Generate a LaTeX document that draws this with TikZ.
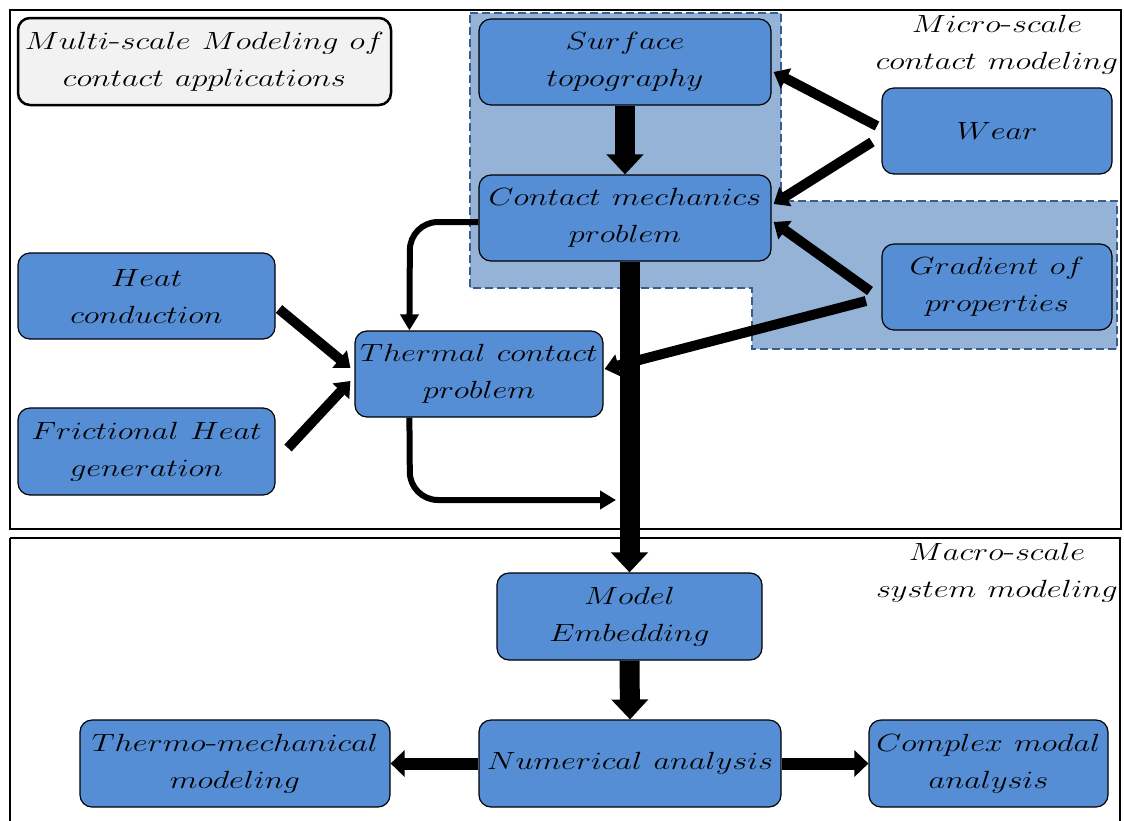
\documentclass[tikz,border=0pt]{standalone}
\usepackage{graphicx}
\usetikzlibrary{arrows.meta,calc}
\definecolor{nodeblue}{HTML}{558ED5}
\definecolor{regionblue}{HTML}{95B3D7}
\definecolor{regionedge}{HTML}{385D8A}
\definecolor{titlegray}{HTML}{F2F2F2}
\newcommand\tx[1]{\scalebox{1.3}[1]{$#1$}}
\begin{document}
\begin{tikzpicture}[x=1pt,y=-1pt,
  box/.style={draw=black, line width=1.2pt, fill=nodeblue, rounded corners=12pt,
    inner sep=0pt, align=center, font=\fontsize{29}{37}\selectfont},
  lbl/.style={inner sep=0pt, align=center, font=\fontsize{29}{37}\selectfont},
  bigarrow/.style={line width=20pt, -{Triangle[width=36pt,length=20pt]}},
  medarrow/.style={line width=10pt, -{Triangle[width=22pt,length=14pt]}},
  thinarrow/.style={line width=6pt, rounded corners=28pt, -{Triangle[width=18pt,length=16pt]}},
  frame/.style={draw=black, line width=2.5pt}]
\useasboundingbox (0,0) rectangle (1124,820);
% frames
\draw[frame] (10,10) rectangle (1121,529);
\draw[frame] (10,538) -- (1120,538) -- (1120,830);
\draw[frame] (10,538) -- (10,830);
% shaded region
\draw[fill=regionblue, draw=regionedge, line width=1.8pt, dash pattern=on 8pt off 4pt]
  (470,13) -- (781,13) -- (781,201) -- (1117,201) -- (1117,349) -- (752,349)
  -- (752,288) -- (470,288) -- cycle;
% title
\node[box, fill=titlegray, line width=2.5pt, minimum width=373pt, minimum height=87pt] (title) at (204.5,61.5)
  {\tx{Multi\mbox{-}scale\ Modeling\ of}\\\tx{contact\ applications}};
% labels
\node[lbl] (micro) at (997,45) {\tx{Micro\mbox{-}scale}\\\tx{contact\ modeling}};
\node[lbl] (macro) at (997,573) {\tx{Macro\mbox{-}scale}\\\tx{system\ modeling}};
% nodes
\node[box, minimum width=292pt, minimum height=86pt] (surf) at (625,62) {\tx{Surface}\\\tx{topography}};
\node[box, minimum width=292pt, minimum height=86pt] (cmp) at (625,218) {\tx{Contact\ mechanics}\\\tx{problem}};
\node[box, minimum width=230pt, minimum height=86pt] (wear) at (997,131) {\tx{Wear}};
\node[box, minimum width=230pt, minimum height=86pt] (grad) at (997,287) {\tx{Gradient\ of}\\\tx{properties}};
\node[box, minimum width=257pt, minimum height=86pt] (heat) at (146.5,296) {\tx{Heat}\\\tx{conduction}};
\node[box, minimum width=257pt, minimum height=87pt] (fric) at (146.5,451.5) {\tx{Frictional\ Heat}\\\tx{generation}};
\node[box, minimum width=248pt, minimum height=86pt] (therm) at (479,374) {\tx{Thermal\ contact}\\\tx{problem}};
\node[box, minimum width=265pt, minimum height=87pt] (me) at (629.5,616.5) {\tx{Model}\\\tx{Embedding}};
\node[box, minimum width=302pt, minimum height=87pt] (na) at (630,763.5) {\tx{Numerical\ analysis}};
\node[box, minimum width=310pt, minimum height=87pt] (tm) at (235,763.5) {\tx{Thermo\mbox{-}mechanical}\\\tx{modeling}};
\node[box, minimum width=239pt, minimum height=87pt] (cma) at (988.5,763.5) {\tx{Complex\ modal}\\\tx{analysis}};
% coordinates for free ends
\coordinate (w1) at (877,126);
\coordinate (w2) at (872,142);
\coordinate (g1) at (870,291);
\coordinate (g2) at (866,301);
\coordinate (h1) at (279,309);
\coordinate (f1) at (288,448);
\coordinate (barhit) at (616,500);
% arrows
\draw[bigarrow] (surf.south) -- (cmp.north);
\draw[bigarrow] (cmp.south -| me.north) -- (me.north);
\draw[bigarrow] (me.south) -- (na.north);
\draw[medarrow] (w1) -- ($(surf.east)+(2,10)$);
\draw[medarrow] (w2) -- ($(cmp.east)+(2,-14)$);
\draw[medarrow] (g1) -- ($(cmp.east)+(2,4)$);
\draw[medarrow] (g2) -- ($(therm.east)+(1,-5)$);
\draw[medarrow] (h1) -- ($(therm.west)+(-4,-6)$);
\draw[medarrow] (f1) -- ($(therm.west)+(-4,7)$);
\draw[thinarrow] (cmp.west |- 0,222) -- (410,222) -- ($(therm.north west)+(55,0)$);
\draw[thinarrow] ($(therm.south west)+(55,0)$) -- (410,500) -- (barhit);
\draw[line width=12pt, -{Triangle[width=26pt,length=14pt]}] (na.west) -- (tm.east);
\draw[line width=12pt, -{Triangle[width=26pt,length=14pt]}] (na.east) -- (cma.west);
\end{tikzpicture}
\end{document}
